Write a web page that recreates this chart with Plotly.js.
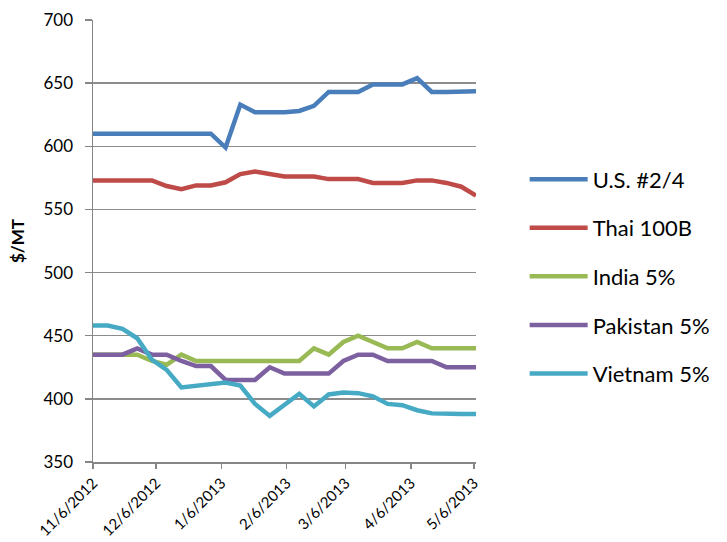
<!DOCTYPE html>
<html>
<head>
<meta charset="utf-8">
<script src="https://cdn.plot.ly/plotly-3.0.1.min.js"></script>
<style>html,body{margin:0;padding:0;background:#fff;}#chart{width:727px;height:542px;}</style>
</head>
<body>
<div id="chart"></div>
<script>
const dates = ['2012-11-06','2012-11-13','2012-11-20','2012-11-27','2012-12-04','2012-12-11','2012-12-18','2012-12-25',
  '2013-01-01','2013-01-08','2013-01-15','2013-01-22','2013-01-29','2013-02-05','2013-02-12','2013-02-19','2013-02-26',
  '2013-03-05','2013-03-12','2013-03-19','2013-03-26','2013-04-02','2013-04-09','2013-04-16','2013-04-23','2013-04-30','2013-05-07'];
const us =       [610,610,610,610,610,610,610,610.5,610,599,633,627,627,627,628,632,643,643,643,649,649,649,654,643,643,643.5,643.5];
const thai =     [573,573,573,573,573,568.5,566,569,569,571.5,578,580,578,576,576,576,574,574,574,571,571,571,573,573,571,568,561];
const india =    [435,435,435,435,430,427,435,430,430,430,430,430,430,430,430,440,435,445,450,445,440,440,445,440,440,440,440];
const pakistan = [435,435,435,440,435,435,430,426,426,415,415,415,425,420,420,420,420,430,435,435,430,430,430,430,425,425,425];
const vietnam =  [458,458,455.5,448,431,423,409,410.5,412,413,410.5,396,386.5,395,404,394,403.5,405,404.5,402,396,395,391,388.5,388,388,388];
const names = ['U.S. #2/4','Thai 100B','India 5%','Pakistan 5%','Vietnam 5%'];
const colors = ['#4A7EBB','#BE4B48','#98B954','#7D60A0','#46AAC5'];
const tickVals = ['2012-11-06','2012-12-06','2013-01-06','2013-02-06','2013-03-06','2013-04-06','2013-05-06'];
const tickText = ['11/6/2012','12/6/2012','1/6/2013','2/6/2013','3/6/2013','4/6/2013','5/6/2013'];
const series = [us, thai, india, pakistan, vietnam];

const font = 'Lato, "Open Sans", "Liberation Sans", sans-serif';
const traces = series.map((s, i) => ({
  x: dates, y: s, type: 'scatter', mode: 'lines', name: names[i],
  legendgroup: 'g' + i,
  line: {color: colors[i], width: 4.5}
}));

const layout = {
  width: 727, height: 542,
  margin: {l: 93, r: 249, t: 20, b: 80},
  paper_bgcolor: '#fff', plot_bgcolor: '#fff',
  font: {family: font, color: '#000'},
  showlegend: true,
  legend: {x: 1.127, xanchor: 'left', y: 0.42, yanchor: 'middle',
    font: {size: 22, family: font, color: '#000'}, tracegroupgap: 17, itemwidth: 58,
    bgcolor: 'rgba(0,0,0,0)'},
  xaxis: {
    type: 'date', range: ['2012-11-06', '2013-05-07'],
    tickmode: 'array', tickvals: tickVals, ticktext: tickText,
    tickangle: -45, tickfont: {size: 15, family: font},
    showgrid: false, zeroline: false,
    showline: true, linecolor: '#868686', linewidth: 1.5,
    ticks: 'outside', ticklen: 5, tickcolor: '#868686', tickwidth: 1.5
  },
  yaxis: {
    range: [350, 700], dtick: 50, tick0: 350,
    tickfont: {size: 17, family: font},
    ticklabelstandoff: 8,
    showgrid: true, gridcolor: '#8c8c8c', gridwidth: 1.5,
    zeroline: false, showline: true, linecolor: '#868686', linewidth: 1.5,
    ticks: 'outside', ticklen: 7, tickcolor: '#868686', tickwidth: 1.5,
    title: {text: '$/MT', font: {size: 17, family: font, weight: 'bold'}, standoff: 14}
  }
};
Plotly.newPlot('chart', traces, layout, {displayModeBar: false, staticPlot: true});
</script>
</body>
</html>
